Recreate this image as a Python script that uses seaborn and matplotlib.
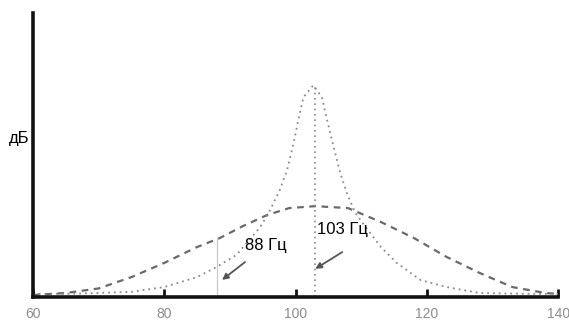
import matplotlib
matplotlib.use("Agg")
import matplotlib.pyplot as plt
import seaborn as sns
import pandas as pd

# Narrow resonance curve (dotted), relative level
sharp_freq = [60, 65, 70, 75, 80, 85, 88, 91, 94.6, 95.9, 97.6, 98.7, 99.7, 100.4, 101.2, 102.7,
              104.0, 104.8, 105.8, 106.8, 107.8, 109.1, 111, 113, 115.4, 119, 123, 128, 135, 140]
sharp_level = [1.1, 1.1, 1.4, 1.8, 3.5, 7.0, 10.6, 14.8, 24.6, 29.6, 37.7, 44.7, 54.2, 62.3, 70.4, 74.6,
               70.4, 62.3, 52.8, 43.7, 36.6, 29.6, 23.6, 17.6, 12.0, 6.0, 3.5, 1.4, 1.1, 1.1]

# Broad resonance curve (dashed)
broad_freq = [60, 65, 70, 75, 80, 85, 88.5, 92, 95.7, 99, 103, 108, 113, 118, 123, 128, 133, 138, 140]
broad_level = [0.7, 1.4, 3.0, 7.0, 12.0, 17.6, 20.8, 25.0, 28.9, 31.3, 32.0, 31.3, 26.4, 20.8, 14.1, 8.5, 3.5, 1.4, 1.1]

x_ticks = [60, 80, 100, 120, 140]
x_tick_labels = ["60", "80", "100", "120", "140"]
marker_freqs = [88, 103]
marker_labels = ["88 Гц", "103 Гц"]
y_label = "дБ"

sns.set_theme(style="white")
plt.rcParams["font.family"] = ["Liberation Sans Narrow", "Liberation Sans", "DejaVu Sans"]

fig = plt.figure(figsize=(5.69, 3.2), dpi=100)
ax = fig.add_axes([0.058, 0.072, 0.923, 0.887])

sharp_df = pd.DataFrame({"f": sharp_freq, "L": sharp_level})
broad_df = pd.DataFrame({"f": broad_freq, "L": broad_level})

sns.lineplot(data=broad_df, x="f", y="L", ax=ax, color="#6a6a6a", lw=1.6,
             linestyle=(0, (3, 2.5)))
sns.lineplot(data=sharp_df, x="f", y="L", ax=ax, color="#8a8a8a", lw=1.3,
             linestyle=(0, (1, 2.2)))

# vertical markers
peak_sharp = max(sharp_level)
broad_at_88 = 20.8
ax.plot([marker_freqs[0], marker_freqs[0]], [0, broad_at_88], color="#c8c8c8", lw=0.9)
ax.plot([marker_freqs[1], marker_freqs[1]], [0, peak_sharp], color="#8a8a8a", lw=1.2,
        linestyle=(0, (1, 2.2)))

ax.set_xlim(60, 140)
ax.set_ylim(0, 100)

# annotations: arrows and labels
arrow_kw = dict(arrowstyle="-|>", color="#555555", lw=1.3, mutation_scale=9,
                shrinkA=0, shrinkB=0)
ax.annotate("", xy=(88.8, 6.0), xytext=(92.3, 12.3), arrowprops=arrow_kw)
ax.annotate("", xy=(103.0, 9.9), xytext=(107.1, 15.8), arrowprops=arrow_kw)
ax.text(95.5, 18.3, marker_labels[0], fontsize=12, ha="center", va="center", color="black")
ax.text(107.1, 23.9, marker_labels[1], fontsize=12, ha="center", va="center", color="black")

ax.set_xticks(x_ticks)
ax.set_xticklabels(x_tick_labels, fontsize=10, color="#8c8c8c")
ax.set_yticks([])
ax.set_xlabel("")
ax.set_ylabel("")
ax.tick_params(axis="x", direction="in", length=6, width=2, color="#111111", pad=7,
               bottom=True)
fig.text(19 / 569, 1 - 138 / 320, y_label, fontsize=12, ha="center", va="center",
         color="black")

for s in ["top", "right"]:
    ax.spines[s].set_visible(False)
for s in ["left", "bottom"]:
    ax.spines[s].set_color("#111111")
    ax.spines[s].set_linewidth(2.6)

fig.savefig("out.png", dpi=100)
